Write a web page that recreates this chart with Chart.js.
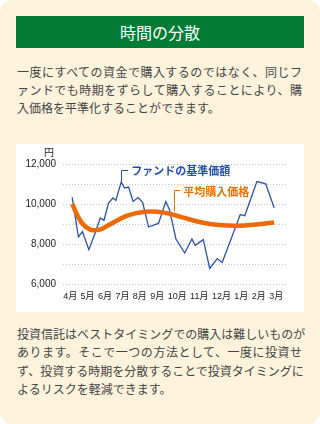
<!DOCTYPE html>
<html lang="ja">
<head>
<meta charset="utf-8">
<script src="https://cdn.jsdelivr.net/npm/chart.js@4"></script>
<style>
    body { margin: 0; background: #fff; }
    .card {
        position: relative; width: 320px; height: 424px;
        background: #fdf3dd; border-radius: 12px; overflow: hidden;
        font-family: "Noto Sans CJK JP", "Noto Sans", sans-serif;
    }
    .title {
        position: absolute; left: 16px; top: 16px; width: 288px; height: 32px;
        background: #027b35; color: #fff; font-size: 16px;
        line-height: 32px; text-align: center;
    }
    .txt {
        position: absolute; left: 17px; width: 285px;
        font-size: 12px; line-height: 18.4px; color: #444;
    }
    .txt div { white-space: nowrap; }
    .txt .j { text-align: justify; text-align-last: justify; }
    .panel {
        position: absolute; left: 16px; top: 144px; width: 288px; height: 168px;
        background: #fff;
    }
</style>
</head>
<body>
<div class="card">
    <div class="title">時間の分散</div>
    <div class="txt" style="top:62.5px">
        <div class="j">一度にすべての資金で購入するのではなく、同じフ</div>
        <div class="j">ァンドでも時期をずらして購入することにより、購</div>
        <div>入価格を平準化することができます。</div>
    </div>
    <div class="panel"><canvas id="grafico"></canvas></div>
    <div class="txt" style="top:325px">
        <div class="j">投資信託はベストタイミングでの購入は難しいものが</div>
        <div class="j">あります。そこで一つの方法として、一度に投資せ</div>
        <div class="j">ず、投資する時期を分散することで投資タイミングに</div>
        <div>よるリスクを軽減できます。</div>
    </div>
</div>
<script>
const meses = ['4月', '5月', '6月', '7月', '8月', '9月', '10月', '11月', '12月', '1月', '2月', '3月'];

// ファンドの基準価額 (x = 月の位置)
const fundoX = [0, 0.34, 0.56, 0.91, 1.25, 1.53, 1.73, 1.98, 2.22, 2.38, 2.67, 2.85, 3.07, 3.32, 3.59, 3.84,
    4.16, 4.70, 5.10, 5.30, 5.65, 6.13, 6.52, 6.70, 7.14, 7.49, 7.90, 8.17, 9.15, 9.40, 10.06, 10.54, 11];
const fundoY = [10330, 8350, 8615, 7715, 8550, 9300, 9180, 10050, 10300, 10180, 11100, 10800, 10850, 10130, 10320, 10070,
    8850, 9030, 10120, 9715, 8250, 7550, 8250, 7930, 8215, 6780, 7270, 7080, 9465, 9415, 11120, 11010, 9810];

// 平均購入価格
const mediaX = [0, 0.5, 1, 1.5, 2, 3, 4, 5, 6, 7, 8, 9, 10, 11];
const mediaY = [10000, 9080, 8720, 8720, 8950, 9420, 9610, 9570, 9330, 9090, 8950, 8910, 8970, 9080];

const rotulos = [
    { texto: 'ファンドの基準価額', cor: '#2350a6', x: 2.67, baixo: 11130, topo: 11715, fim: 3.05, tx: 3.22, ty: 11640 },
    { texto: '平均購入価格', cor: '#ee7000', x: 5.52, baixo: 9630, topo: 10680, fim: 5.88, tx: 6.05, ty: 10610 }
];

function pontos(xs, ys) {
    return xs.map((x, i) => ({ x: x, y: ys[i] }));
}

const fonteMes = '9px "Liberation Sans", "Noto Sans CJK JP", sans-serif';

const rotuloPlugin = {
    id: 'rotulos',
    afterDatasetsDraw(chart) {
        const { ctx, chartArea, scales: { x, y } } = chart;
        ctx.save();
        rotulos.forEach(r => {
            const px = Math.round(x.getPixelForValue(r.x)) + 0.5;
            const pt = Math.round(y.getPixelForValue(r.topo)) + 0.5;
            ctx.strokeStyle = r.cor;
            ctx.lineWidth = 1;
            ctx.beginPath();
            ctx.moveTo(px, y.getPixelForValue(r.baixo));
            ctx.lineTo(px, pt);
            ctx.lineTo(x.getPixelForValue(r.fim), pt);
            ctx.stroke();
            ctx.fillStyle = r.cor;
            ctx.font = 'bold 11px "Noto Sans CJK JP"';
            ctx.textBaseline = 'middle';
            ctx.fillText(r.texto, x.getPixelForValue(r.tx), y.getPixelForValue(r.ty));
        });

        // 月ラベル: 先頭と末尾を目盛りに合わせ、間隔を均等に並べる
        ctx.fillStyle = '#222';
        ctx.font = fonteMes;
        ctx.textBaseline = 'middle';
        ctx.textAlign = 'left';
        const larguras = meses.map(m => ctx.measureText(m).width);
        const inicio = x.getPixelForValue(0) - larguras[0] / 2 - 2;
        const fim = x.getPixelForValue(meses.length - 1) + larguras[larguras.length - 1] / 2 + 2;
        const total = larguras.reduce((a, b) => a + b, 0);
        const vao = (fim - inicio - total) / (meses.length - 1);
        let cx = inicio;
        meses.forEach((m, i) => {
            ctx.fillText(m, cx, chartArea.bottom + 13);
            cx += larguras[i] + vao;
        });

        ctx.font = '10px "Noto Sans CJK JP"';
        ctx.textAlign = 'right';
        ctx.fillText('円', chartArea.left - 9, chartArea.top - 12);
        ctx.restore();
    }
};

const fonteEixo = { family: '"Liberation Sans", Arial, sans-serif', size: 10 };

new Chart(document.getElementById('grafico'), {
    type: 'line',
    data: {
        datasets: [
            {
                label: '平均購入価格',
                data: pontos(mediaX, mediaY),
                borderColor: '#ee6a00',
                borderWidth: 4.5,
                tension: 0.4,
                pointRadius: 0
            },
            {
                label: 'ファンドの基準価額',
                data: pontos(fundoX, fundoY),
                borderColor: '#2a52a8',
                borderWidth: 1.3,
                tension: 0,
                pointRadius: 0
            }
        ]
    },
    options: {
        responsive: true,
        maintainAspectRatio: false,
        animation: false,
        layout: { padding: { top: 20, right: 17, left: 0, bottom: 0 } },
        plugins: { legend: { display: false }, tooltip: { enabled: false } },
        scales: {
            x: {
                type: 'linear',
                min: -0.5,
                max: 11.7,
                afterBuildTicks: scale => { scale.ticks = meses.map((m, i) => ({ value: i })); },
                afterFit: scale => { scale.height = 28; },
                grid: { display: false },
                border: { display: false },
                ticks: { display: false }
            },
            y: {
                min: 6000,
                max: 12000,
                afterFit: scale => { scale.width = 47; },
                grid: { color: '#c4c4c4', drawTicks: false, lineWidth: 1 },
                border: { display: false, dash: [1, 2] },
                ticks: {
                    stepSize: 1000,
                    callback: v => v % 2000 === 0 ? v.toLocaleString('en-US') : '',
                    color: '#222',
                    font: fonteEixo,
                    padding: 7
                }
            }
        }
    },
    plugins: [rotuloPlugin]
});
</script>
</body>
</html>
